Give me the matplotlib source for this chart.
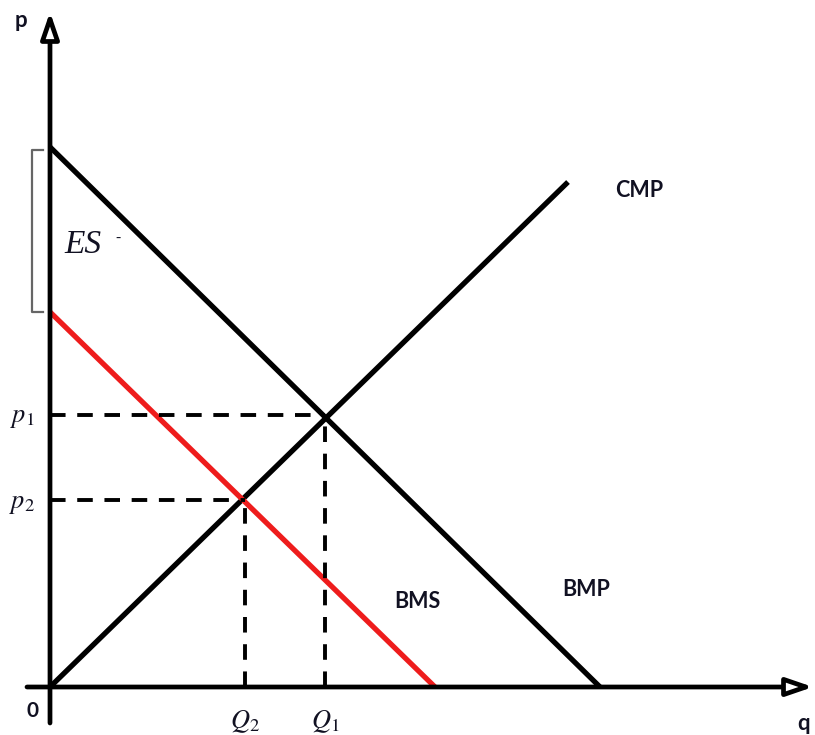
import matplotlib
matplotlib.use("Agg")
import matplotlib.pyplot as plt

# quantities / prices, measured from the origin (chart units)
bmp_q = [0, 550]        # marginal private benefit
bmp_p = [540, 0]
cmp_q = [0, 518]        # marginal private cost
cmp_p = [0, 505]
bms_q = [0, 385]        # marginal social benefit
bms_p = [375, 0]
eq_q = [275, 195]       # Q1, Q2
eq_p = [272, 187]       # p1, p2
es_range = [375, 537]   # external surplus bracket

plt.rcParams['mathtext.fontset'] = 'stix'
fig = plt.figure(figsize=(8.15, 7.35), dpi=100)
ax = fig.add_axes([0, 0, 1, 1])
ax.set_xlim(-50, 765)
ax.set_ylim(-48, 687)
ax.axis('off')

# axes with open arrow heads
arrow = dict(arrowstyle='-|>,head_length=1.6,head_width=0.55', fc='white',
             ec='black', lw=3.4, shrinkA=0, shrinkB=0)
ax.annotate('', xy=(0, 675), xytext=(0, -36), arrowprops=arrow)
ax.annotate('', xy=(763, 0), xytext=(-23, 0), arrowprops=arrow)

# curves
ax.plot(bmp_q, bmp_p, color='black', lw=3.8, solid_capstyle='butt')
ax.plot(cmp_q, cmp_p, color='black', lw=3.8, solid_capstyle='butt')
ax.plot(bms_q, bms_p, color='#ee1c1c', lw=3.8, solid_capstyle='butt')

# dashed guides
for q, p in zip(eq_q, eq_p):
    ax.plot([0, q], [p, p], color='black', lw=2.8, dashes=(4, 3))
    ax.plot([q, q], [0, p], color='black', lw=2.8, dashes=(4, 3))

# ES bracket
ax.plot([-7, -18, -18, -7], [es_range[1], es_range[1], es_range[0], es_range[0]],
        color='#666666', lw=1.6)

serif = 'Liberation Serif'
sans = 'Lato'
tc = '#111122'
ax.text(-35, 667, 'p', fontsize=16, fontweight='bold', family=sans, color=tc,
        ha='left', va='center')
ax.text(747, -36, 'q', fontsize=16, fontweight='bold', family=sans, color=tc,
        ha='left', va='center')
ax.text(-18, -24, '0', fontsize=15, fontweight='bold', family=sans, color=tc,
        ha='center', va='center')
ax.text(565, 497, 'CMP', fontsize=15.5, fontweight='bold', family=sans, color=tc,
        ha='left', va='center')
ax.text(344, 86, 'BMS', fontsize=15.5, fontweight='bold', family=sans, color=tc,
        ha='left', va='center')
ax.text(512, 97, 'BMP', fontsize=15.5, fontweight='bold', family=sans, color=tc,
        ha='left', va='center')

ax.text(14, 442, 'ES', fontsize=24, style='italic', family=serif, color=tc,
        ha='left', va='center')
ax.text(65, 449, '-', fontsize=11, family=serif, color=tc, ha='left', va='center')

ax.text(-28, eq_p[0] - 2, r'$p_{\mathit{1}}$', fontsize=19, color=tc,
        ha='center', va='center')
ax.text(-28, eq_p[1] - 3, r'$p_{\mathit{2}}$', fontsize=19, color=tc,
        ha='center', va='center')
ax.text(eq_q[1], -35, r'$Q_{\mathit{2}}$', fontsize=19, color=tc,
        ha='center', va='center')
ax.text(eq_q[0], -35, r'$Q_{\mathit{1}}$', fontsize=19, color=tc,
        ha='center', va='center')

fig.savefig('out.png', dpi=100, facecolor='white')
